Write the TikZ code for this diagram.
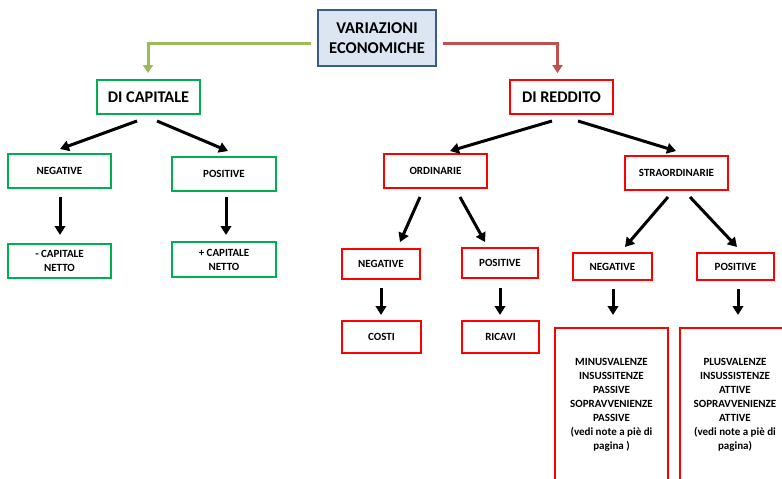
\documentclass[tikz,border=0pt]{standalone}
\usepackage{fontspec}
\setmainfont{Carlito}
\usetikzlibrary{arrows.meta}
\definecolor{topfill}{HTML}{DCE6F2}
\definecolor{topdraw}{HTML}{385D8A}
\definecolor{gbord}{HTML}{00B050}
\definecolor{gline}{HTML}{9BBB59}
\definecolor{rline}{HTML}{C0504D}
\tikzset{
  base/.style={font=\bfseries\fontsize{11}{14}\selectfont, align=center, inner sep=0pt, line width=2pt, fill=white},
  gbox/.style={base, draw=gbord},
  rbox/.style={base, draw=red},
  bigtxt/.style={font=\bfseries\fontsize{16.3}{19}\selectfont},
  arr/.style={draw=black, line width=3pt, -{Triangle[width=10.5pt,length=9pt]}},
  garr/.style={draw=gline, line width=3pt, -{Triangle[width=10pt,length=8pt]}},
  rarr/.style={draw=rline, line width=3pt, -{Triangle[width=10pt,length=8pt]}},
}
\begin{document}
\begin{tikzpicture}[x=1pt,y=-1pt]
\useasboundingbox (0,0) rectangle (782,479);
\clip (0,0) rectangle (782,479);
% top
\node[draw=topdraw, fill=topfill, line width=1.5pt, minimum width=118pt, minimum height=56pt, inner sep=0pt, align=center, font=\bfseries\fontsize{16.5}{20}\selectfont] (top) at (377,38) {VARIAZIONI\\ECONOMICHE};
% second level
\node[gbox, bigtxt, minimum width=103pt, minimum height=34pt] (dc) at (148.5,97) {DI CAPITALE};
\node[rbox, bigtxt, minimum width=103pt, minimum height=34pt] (dr) at (561.5,97) {DI REDDITO};
% capitale branch
\node[gbox, minimum width=103pt, minimum height=34pt] (neg1) at (59.5,171) {NEGATIVE};
\node[gbox, minimum width=104pt, minimum height=34pt] (pos1) at (224,174) {POSITIVE};
\node[gbox, minimum width=103pt, minimum height=34pt] (cn1) at (59.5,261) {- CAPITALE\\NETTO};
\node[gbox, minimum width=104pt, minimum height=35pt] (cp1) at (224,259.5) {+ CAPITALE\\NETTO};
% reddito branch
\node[rbox, minimum width=103pt, minimum height=34pt] (ord) at (435.5,171) {ORDINARIE};
\node[rbox, minimum width=103pt, minimum height=34pt] (stra) at (676.5,173) {STRAORDINARIE};
\node[rbox, minimum width=78pt, minimum height=30pt] (neg2) at (381,264) {NEGATIVE};
\node[rbox, minimum width=76pt, minimum height=30pt] (pos2) at (500,263) {POSITIVE};
\node[rbox, minimum width=79pt, minimum height=32pt] (costi) at (381.5,337) {COSTI};
\node[rbox, minimum width=77pt, minimum height=32pt] (ricavi) at (500.5,337) {RICAVI};
\node[rbox, minimum width=79pt, minimum height=27pt] (neg3) at (612.5,266.5) {NEGATIVE};
\node[rbox, minimum width=77pt, minimum height=27pt] (pos3) at (735.5,266.5) {POSITIVE};
\node[rbox, font=\bfseries\fontsize{11}{14}\selectfont, minimum width=113pt, minimum height=154pt] (big1) at (611.5,405) {MINUSVALENZE\\INSUSSITENZE\\PASSIVE\\SOPRAVVENIENZE\\PASSIVE\\(vedi note  a piè di\\pagina )};
\node[rbox, font=\bfseries\fontsize{11}{14}\selectfont, minimum width=110pt, minimum height=154pt] (big2) at (735,405) {PLUSVALENZE\\INSUSSISTENZE\\ATTIVE\\SOPRAVVENIENZE\\ATTIVE\\(vedi note a piè di\\pagina)};
% top connectors
\draw[garr] ([xshift=-6pt,yshift=-5pt]top.west) -| ([xshift=-0.5pt,yshift=6pt]dc.north);
\draw[rarr] ([xshift=6pt,yshift=-5pt]top.east) -| ([xshift=-4pt,yshift=6pt]dr.north);
% capitale arrows
\draw[arr] ([xshift=-11.5pt,yshift=-6pt]dc.south) -- ([xshift=0.5pt,yshift=4pt]neg1.north);
\draw[arr] ([xshift=8.5pt,yshift=-6pt]dc.south) -- ([xshift=4pt,yshift=5pt]pos1.north);
\draw[arr] ([xshift=0.5pt,yshift=-8pt]neg1.south) -- ([xshift=0.5pt,yshift=8pt]cn1.north);
\draw[arr] ([xshift=2pt,yshift=-5pt]pos1.south) -- ([xshift=2pt,yshift=6pt]cp1.north);
% reddito arrows
\draw[arr] ([xshift=-9.5pt,yshift=-6pt]dr.south) -- ([xshift=14.5pt,yshift=2pt]ord.north);
\draw[arr] ([xshift=16.5pt,yshift=-6pt]dr.south) -- ([xshift=-0.5pt,yshift=4pt]stra.north);
\draw[arr] ([xshift=-15.5pt,yshift=-8pt]ord.south) -- ([xshift=19pt,yshift=6pt]neg2.north);
\draw[arr] ([xshift=24.5pt,yshift=-8pt]ord.south) -- ([xshift=-15pt,yshift=5pt]pos2.north);
\draw[arr] ([xshift=-8.5pt,yshift=-6pt]stra.south) -- ([xshift=12.5pt,yshift=5pt]neg3.north);
\draw[arr] ([xshift=13.5pt,yshift=-6pt]stra.south) -- ([xshift=1.5pt,yshift=5pt]pos3.north);
\draw[arr] ([yshift=-8pt]neg2.south) -- ([xshift=-0.5pt,yshift=5pt]costi.north);
\draw[arr] ([yshift=-9pt]pos2.south) -- ([xshift=-0.5pt,yshift=5pt]ricavi.north);
\draw[arr] ([xshift=0.5pt,yshift=-8pt]neg3.south) -- ([xshift=1.5pt,yshift=12pt]big1.north);
\draw[arr] ([xshift=2.5pt,yshift=-8pt]pos3.south) -- ([xshift=3pt,yshift=12pt]big2.north);
\end{tikzpicture}
\end{document}
